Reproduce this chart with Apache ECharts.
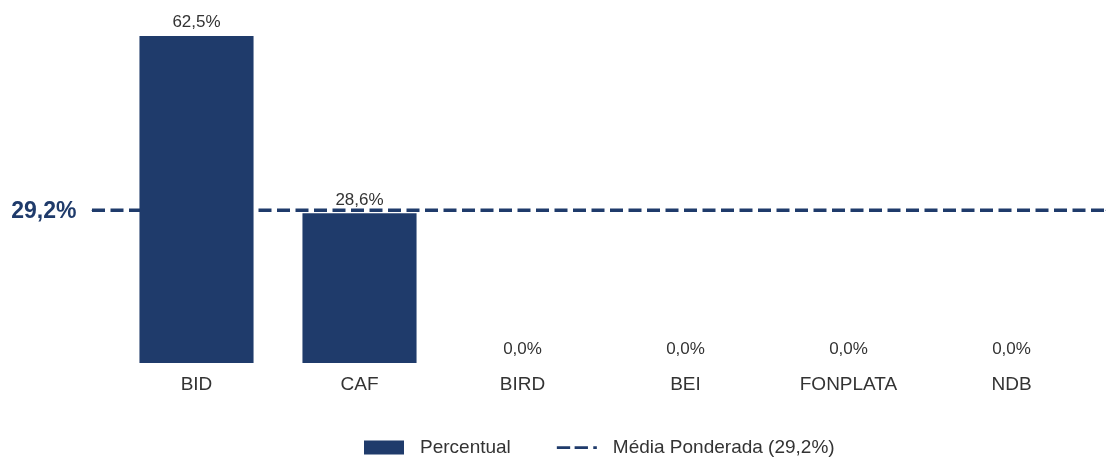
<!DOCTYPE html>
<html>
<head>
<meta charset="utf-8">
<script src="https://cdn.jsdelivr.net/npm/echarts@6/dist/echarts.min.js"></script>
<style>
html,body{margin:0;padding:0;background:#fff;}
#main{width:1106px;height:459px;}
</style>
</head>
<body>
<div id="main"></div>
<script>
const categories = ['BID', 'CAF', 'BIRD', 'BEI', 'FONPLATA', 'NDB'];
const percentual = [62.5, 28.6, 0.0, 0.0, 0.0, 0.0];
const mediaPonderada = 29.2;
const seriesNames = ['Percentual', 'Média Ponderada (29,2%)'];

const NAVY = '#1f3b6b';
const TEXT = '#333333';
const FONT = '"Liberation Sans", Arial, sans-serif';
const fmt = v => v.toFixed(1).replace('.', ',') + '%';

const chart = echarts.init(document.getElementById('main'), null, {renderer: 'canvas'});
const yMax = 62.5;
// dashed legend icon: dash, dash, dot (with invisible extent markers to keep thin line)
const dashIcon = 'path://M0,6h15v3.3h-15zM20,6h15v3.3h-15zM41,6h4v3.3h-4zM0,0h0.05v0.05h-0.05zM0,15h0.05v0.05h-0.05z';

chart.setOption({
  animation: false,
  textStyle: {fontFamily: FONT, color: TEXT},
  grid: [
    {left: 115, right: 13, top: 36, bottom: 96},
    {left: 92, right: 0, top: 36, bottom: 96}
  ],
  xAxis: [
    {
      type: 'category', gridIndex: 0, data: categories,
      axisLine: {show: false}, axisTick: {show: false},
      axisLabel: {fontSize: 19, color: TEXT, margin: 12, fontFamily: FONT}
    },
    {type: 'value', gridIndex: 1, min: 0, max: 1, show: false}
  ],
  yAxis: [
    {type: 'value', gridIndex: 0, min: 0, max: yMax, show: false, splitLine: {show: false}},
    {type: 'value', gridIndex: 1, min: 0, max: yMax, show: false, splitLine: {show: false}}
  ],
  legend: {
    bottom: -3, left: 359,
    itemWidth: 40, itemHeight: 14, itemGap: 46,
    textStyle: {fontSize: 19, color: TEXT, fontFamily: FONT, padding: [0, 0, 0, 11]},
    data: [
      {name: seriesNames[0], icon: 'rect'},
      {name: seriesNames[1], icon: dashIcon, itemStyle: {color: NAVY, borderWidth: 0}}
    ]
  },
  series: [
    {
      name: seriesNames[0], type: 'bar', xAxisIndex: 0, yAxisIndex: 0,
      data: percentual, barWidth: '70%', z: 3,
      itemStyle: {color: NAVY},
      label: {
        show: true, position: 'top', distance: 5,
        formatter: p => fmt(p.value),
        fontSize: 17, color: TEXT, fontFamily: FONT
      }
    },
    {
      name: seriesNames[1], type: 'line', xAxisIndex: 1, yAxisIndex: 1, z: 2,
      showSymbol: true, symbol: 'circle', symbolSize: 1,
      lineStyle: {color: NAVY, width: 3.3, type: [13, 5.5]},
      itemStyle: {color: NAVY},
      data: [
        {value: [0, mediaPonderada], label: {
          show: true, position: 'left', distance: 15, offset: [0, 1],
          formatter: () => fmt(mediaPonderada),
          fontSize: 23, fontWeight: 'bold', color: NAVY, fontFamily: FONT
        }},
        [1, mediaPonderada]
      ]
    }
  ]
});
</script>
</body>
</html>
